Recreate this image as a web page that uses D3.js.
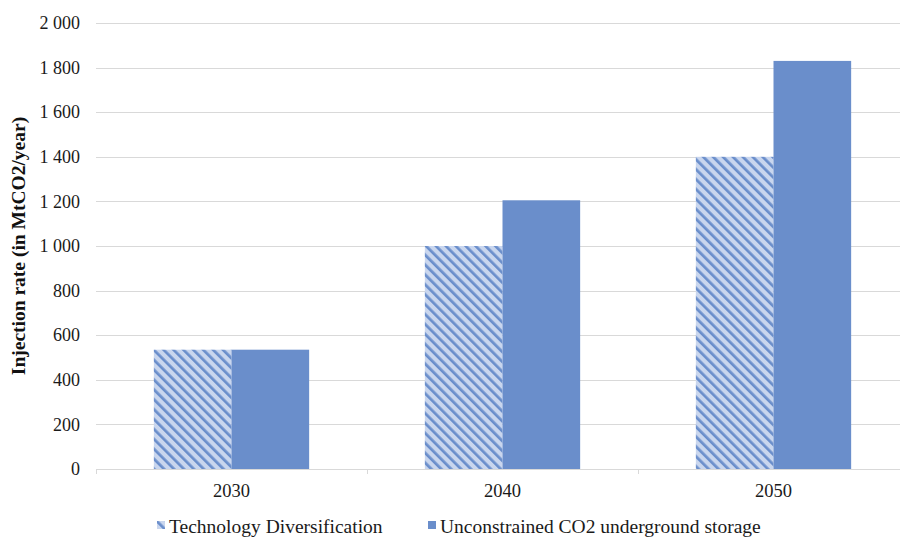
<!DOCTYPE html>
<html><head><meta charset="utf-8">
<script src="https://cdn.jsdelivr.net/npm/d3@7"></script>
<style>body{margin:0;background:#fff}svg{display:block}</style>
</head><body>
<svg id="c" width="900" height="538"></svg>
<script>
const categories = ["2030", "2040", "2050"];
const seriesNames = ["Technology Diversification", "Unconstrained CO2 underground storage"];
const techDiversification = [535, 1000, 1400];
const unconstrainedStorage = [535, 1205, 1830];
const yTicks = [0, 200, 400, 600, 800, 1000, 1200, 1400, 1600, 1800, 2000];
const yTitle = "Injection rate (in MtCO2/year)";

(function () {
const svg = d3.select("#c");
const font = "'Liberation Serif','Times New Roman',serif";
const mLeft = 96, mRight = 909, mTop = 23, mBottom = 469;
const blue = "#6a8ecb", light = "#c9d6ee", grid = "#d9d9d9", ink = "#1a1a1a";

const defs = svg.append("defs");
const pat = defs.append("pattern").attr("id", "hatch").attr("patternUnits", "userSpaceOnUse")
  .attr("width", 7).attr("height", 7).attr("patternTransform", "rotate(-45)");
pat.append("rect").attr("width", 7).attr("height", 7).attr("fill", light);
pat.append("rect").attr("x", 0).attr("width", 2.7).attr("height", 7).attr("fill", blue);

const x = d3.scaleBand().domain(categories).range([mLeft, mRight]).paddingInner(0).paddingOuter(0);
const y = d3.scaleLinear().domain([0, 2000]).range([mBottom, mTop]);
const fmt = v => d3.format(",")(v).replace(",", " ");

// gridlines
svg.append("g").selectAll("line").data(yTicks.filter(t => t > 0)).join("line")
  .attr("x1", mLeft).attr("x2", 900).attr("y1", d => Math.round(y(d)) + 0.5).attr("y2", d => Math.round(y(d)) + 0.5)
  .attr("stroke", grid).attr("stroke-width", 1);

// y axis labels
const yAxis = d3.axisLeft(y).tickValues(yTicks).tickFormat(fmt).tickSize(0).tickPadding(16);
const ya = svg.append("g").attr("transform", `translate(${mLeft},0)`).call(yAxis);
ya.select(".domain").remove();
ya.selectAll("text").attr("font-family", font).attr("font-size", 18).attr("fill", ink);

// bars
const inner = d3.scaleBand().domain([0, 1]).range([0, x.bandwidth()]).paddingOuter(0.745).paddingInner(0);
const data = categories.map((c, i) => ({c, v: [techDiversification[i], unconstrainedStorage[i]]}));
const g = svg.append("g");
data.forEach(d => {
  d.v.forEach((v, j) => {
    g.append("rect").attr("x", x(d.c) + inner(j)).attr("width", inner.bandwidth())
      .attr("y", y(v)).attr("height", y(0) - y(v))
      .attr("fill", j === 0 ? "url(#hatch)" : blue);
  });
});

// x axis
const xAxis = d3.axisBottom(x).tickSize(0).tickPadding(15);
const xa = svg.append("g").attr("transform", `translate(0,${mBottom})`).call(xAxis);
xa.select(".domain").remove();
xa.selectAll("text").attr("font-family", font).attr("font-size", 18.5).attr("fill", ink);
svg.append("line").attr("x1", mLeft).attr("x2", 900).attr("y1", mBottom + 0.5).attr("y2", mBottom + 0.5).attr("stroke", grid);
const bounds = categories.map(c => x(c)).concat([x(categories[categories.length - 1]) + x.bandwidth()]);
svg.append("g").selectAll("line").data(bounds).join("line")
  .attr("x1", d => Math.round(d) + 0.5).attr("x2", d => Math.round(d) + 0.5)
  .attr("y1", mBottom).attr("y2", mBottom + 5).attr("stroke", grid);

// y title
svg.append("text").attr("transform", `translate(25,${(mTop + mBottom) / 2}) rotate(-90)`)
  .attr("text-anchor", "middle").attr("font-family", font).attr("font-size", 19.5).attr("font-weight", "bold")
  .attr("fill", "#111").text(yTitle);

// legend
const legX = [157, 428];
seriesNames.forEach((n, i) => {
  svg.append("rect").attr("x", legX[i]).attr("y", 521).attr("width", 8).attr("height", 8)
    .attr("fill", i === 0 ? "url(#hatch)" : blue);
  svg.append("text").attr("x", legX[i] + 12).attr("y", 533).attr("font-family", font).attr("font-size", 19.5)
    .attr("fill", ink).text(n);
});
})();
</script>
</body></html>
